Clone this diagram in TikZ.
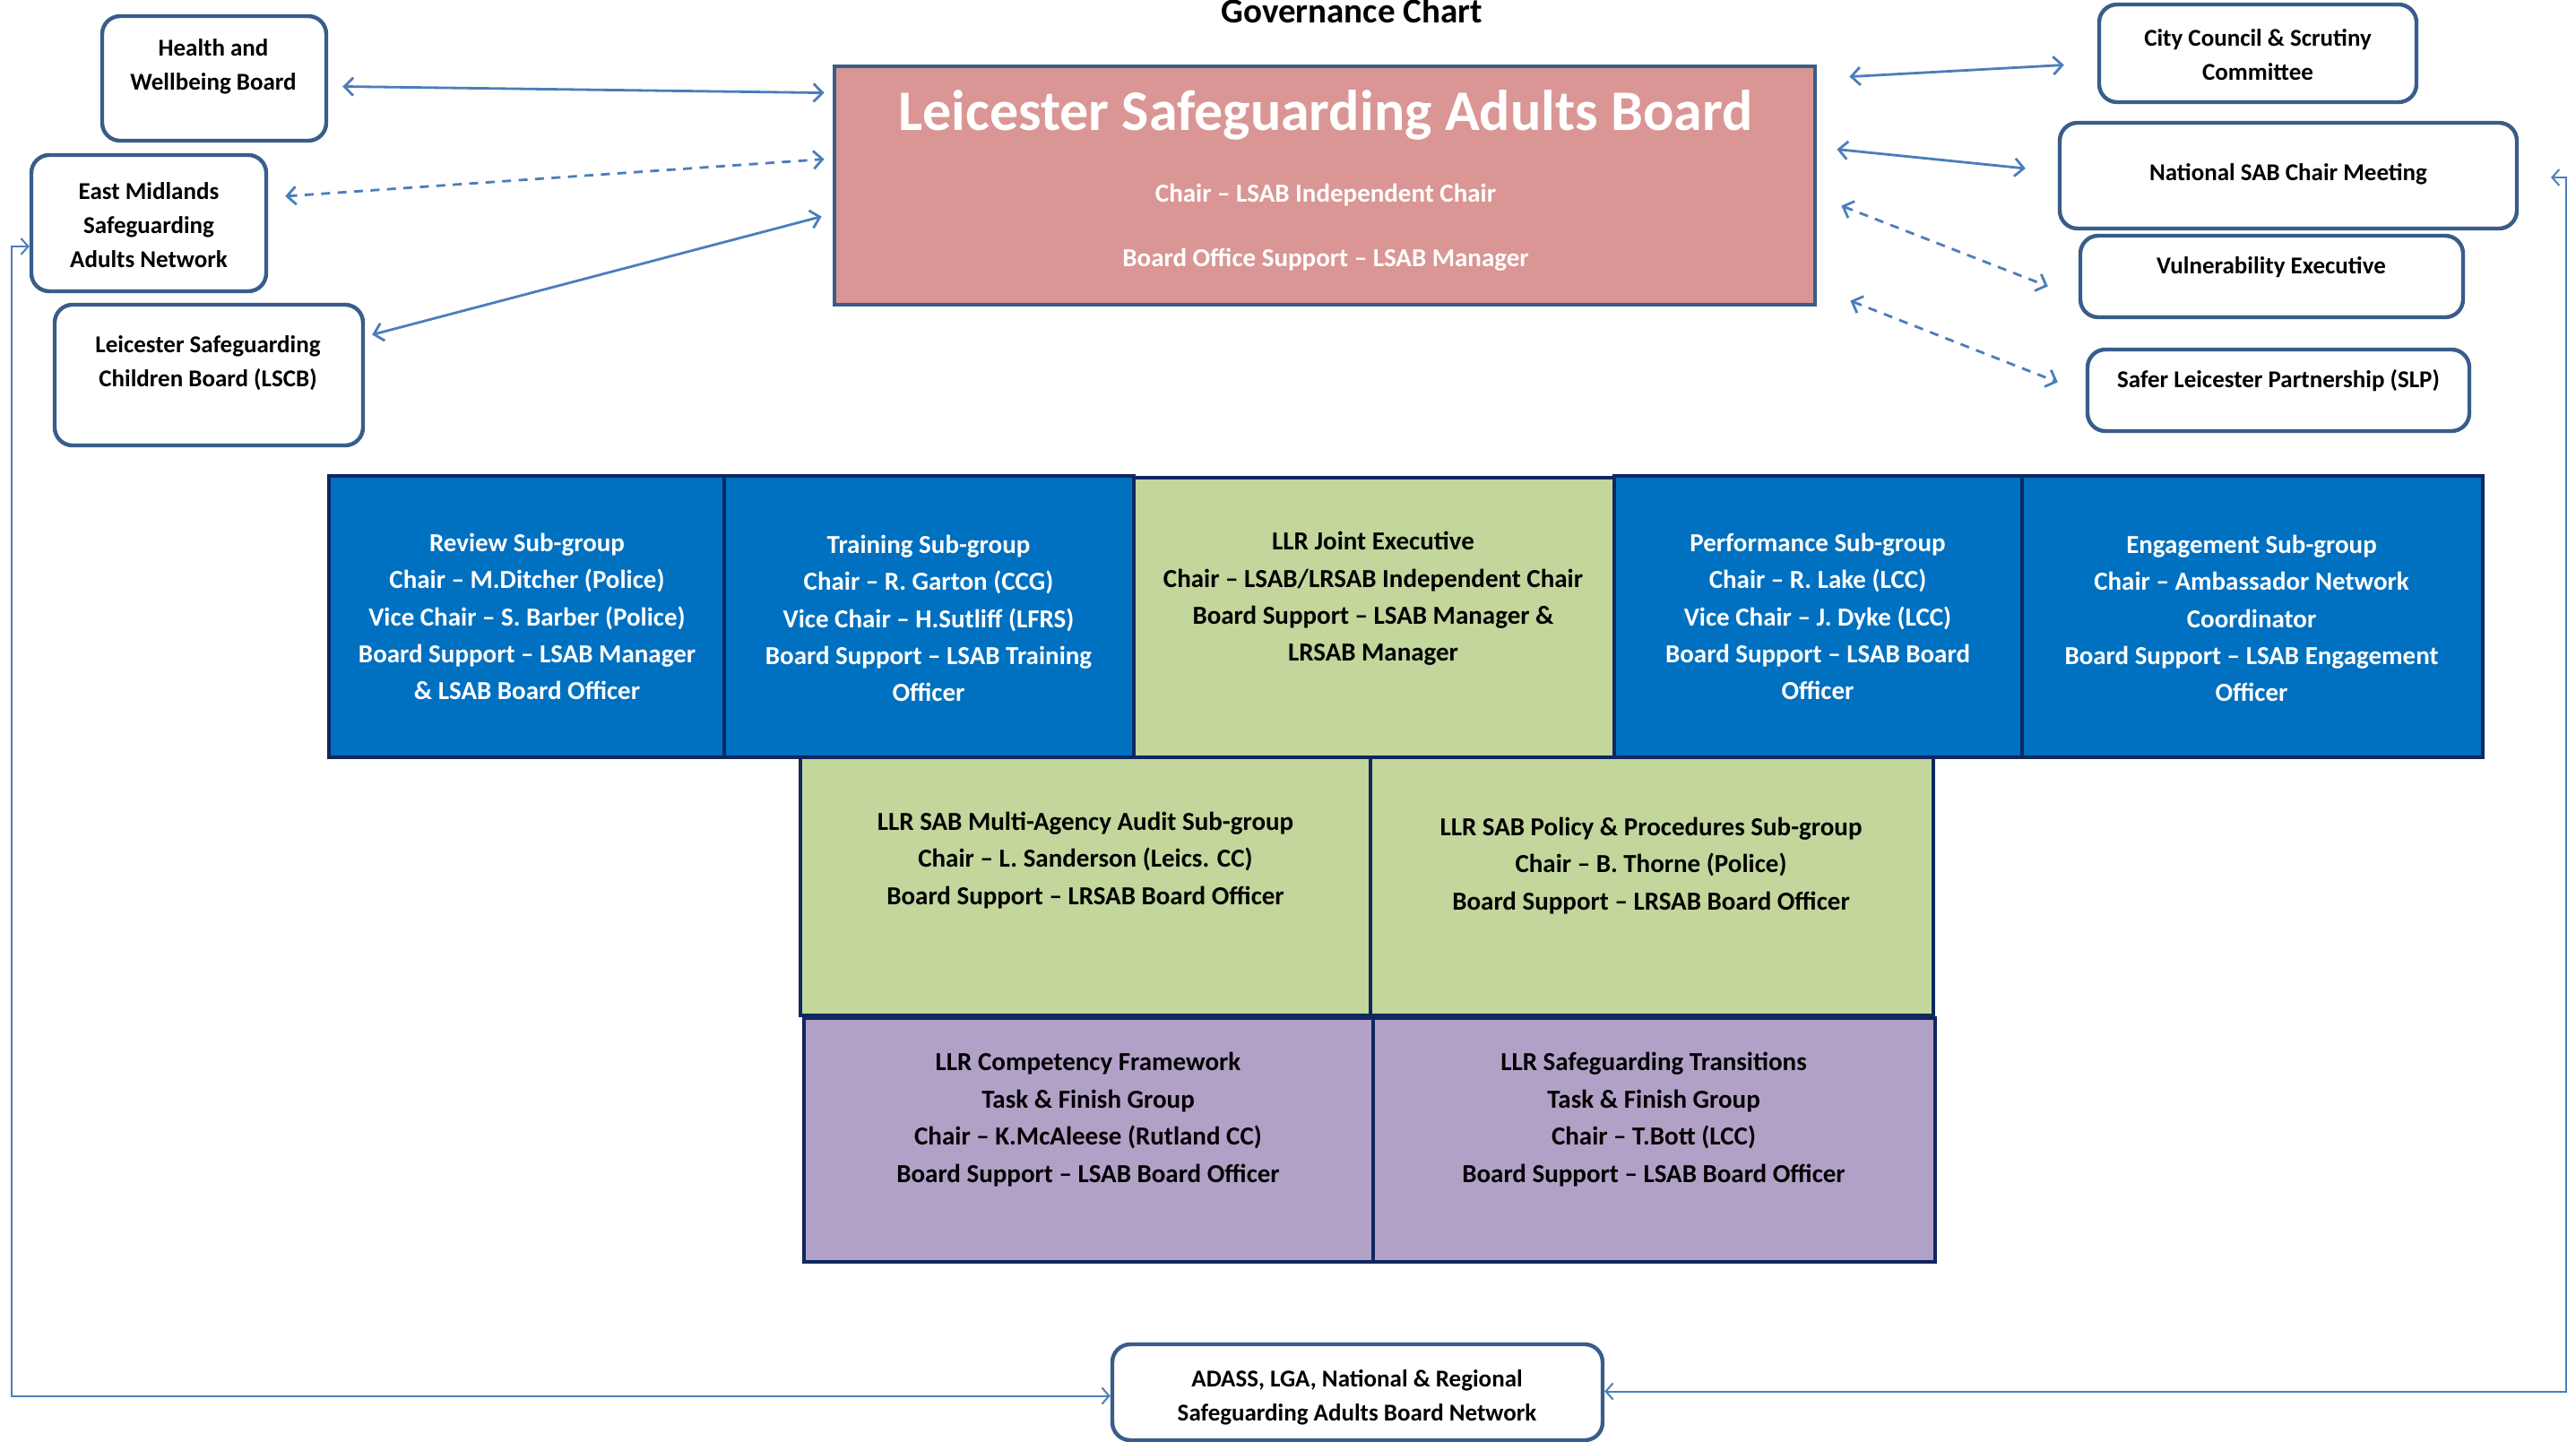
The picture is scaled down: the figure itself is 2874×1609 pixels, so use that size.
\documentclass[tikz,border=0pt]{standalone}
\usepackage{fontspec}
\setmainfont{Carlito}
\usetikzlibrary{arrows.meta,fit,calc}
\definecolor{sgblue}{HTML}{0070C0}
\definecolor{navyline}{HTML}{10275F}
\definecolor{sggreen}{HTML}{C3D69B}
\definecolor{sglilac}{HTML}{B2A1C7}
\definecolor{sgpink}{HTML}{D99694}
\definecolor{sgoutline}{HTML}{385D8A}
\definecolor{sgarrow}{HTML}{4A7EBB}
\newcommand\bxfont{\bfseries\fontsize{14.5}{20.7}\selectfont}
\newcommand\smfont{\bfseries\fontsize{13.5}{19}\selectfont}
\tikzset{
  smallbox/.style={draw=sgoutline, line width=2.2pt, rounded corners=10pt, fill=white, inner sep=0pt},
  bluebox/.style={draw=navyline, line width=1.8pt, fill=sgblue, inner sep=0pt},
  greenbox/.style={draw=navyline, line width=1.6pt, fill=sggreen, inner sep=0pt},
  lilacbox/.style={draw=navyline, line width=2.2pt, fill=sglilac, inner sep=0pt},
  pinkbox/.style={draw=sgoutline, line width=2.4pt, fill=sgpink, inner sep=0pt},
  whitetxt/.style={align=center, font=\bxfont, text=white, inner sep=0pt},
  blacktxt/.style={align=center, font=\bxfont, text=black, inner sep=0pt},
  smalltxt/.style={align=center, font=\smfont, text=black, inner sep=0pt},
  conn/.style={draw=sgarrow, line width=1.4pt,
    {Straight Barb[length=5pt,width=10pt]}-{Straight Barb[length=5pt,width=10pt]}},
  dconn/.style={conn, dash pattern=on 5pt off 4.2pt},
  longconn/.style={draw=sgarrow, line width=1pt,
    {Straight Barb[length=4pt,width=9pt]}-{Straight Barb[length=4pt,width=9pt]}}
}
\begin{document}
\begin{tikzpicture}[x=0.5pt,y=-0.5pt]
\useasboundingbox (0,0) rectangle (2874,1609);

% title
\node[anchor=base, font=\bfseries\fontsize{19.5}{24}\selectfont, inner sep=0pt] (title) at (1508,26) {Governance Chart};

% main board
\node[pinkbox, fit={(931,74) (2025,340)}] (lsab) {};
\node[anchor=center, font=\bfseries\fontsize{32}{38}\selectfont, text=white, inner sep=0pt] (lsabt) at (1479,128) {Leicester Safeguarding Adults Board};
\node[whitetxt] (lsabc) at (1479,218) {Chair – LSAB Independent Chair};
\node[whitetxt] (lsabs) at (1479,290) {Board Office Support – LSAB Manager};

% left partner boxes
\node[smallbox, fit={(114,18) (364,157)}] (hwb) {};
\node[smalltxt] (hwbt) at (238,74) {Health and\\Wellbeing Board};
\node[smallbox, fit={(35,173) (297,325)}] (em) {};
\node[smalltxt] (emt) at (166,251) {East Midlands\\Safeguarding\\Adults Network};
\node[smallbox, fit={(61,340) (405,497)}] (lscb) {};
\node[smalltxt] (lscbt) at (232,405) {Leicester Safeguarding\\Children Board (LSCB)};

% right partner boxes
\node[smallbox, fit={(2342,5) (2696,114)}] (city) {};
\node[smalltxt] (cityt) at (2519,61) {City Council \& Scrutiny\\Committee};
\node[smallbox, fit={(2298,137) (2808,255)}] (nat) {};
\node[smalltxt] (natt) at (2553,194) {National SAB Chair Meeting};
\node[smallbox, fit={(2321,263) (2748,354)}] (vul) {};
\node[smalltxt] (vult) at (2534,298) {Vulnerability Executive};
\node[smallbox, fit={(2329,390) (2755,481)}] (slp) {};
\node[smalltxt] (slpt) at (2542,425) {Safer Leicester Partnership (SLP)};

% bottom network box
\node[smallbox, fit={(1241,1500) (1788,1607)}] (adass) {};
\node[smalltxt] (adasst) at (1514,1559) {ADASS, LGA, National \& Regional\\Safeguarding Adults Board Network};

% sub-group row
\node[greenbox, fit={(1265,533) (1801,845)}] (joint) {};
\node[bluebox, fit={(367,531) (808,845)}] (review) {};
\node[bluebox, fit={(808,531) (1265,845)}] (training) {};
\node[bluebox, fit={(1801,531) (2256,845)}] (perf) {};
\node[bluebox, fit={(2256,531) (2770,845)}] (engage) {};
\node[whitetxt] (reviewt) at (588,688) {Review Sub-group\\Chair – M.Ditcher (Police)\\Vice Chair – S. Barber (Police)\\Board Support – LSAB Manager\\\& LSAB Board Officer};
\node[whitetxt] (trainingt) at (1036,690) {Training Sub-group\\Chair – R. Garton (CCG)\\Vice Chair – H.Sutliff (LFRS)\\Board Support – LSAB Training\\Officer};
\node[blacktxt] (jointt) at (1532,668) {LLR Joint Executive\\Chair – LSAB/LRSAB Independent Chair\\Board Support – LSAB Manager \&\\LRSAB Manager};
\node[whitetxt] (perft) at (2028,688) {Performance Sub-group\\Chair – R. Lake (LCC)\\Vice Chair – J. Dyke (LCC)\\Board Support – LSAB Board\\Officer};
\node[whitetxt] (engaget) at (2512,690) {Engagement Sub-group\\Chair – Ambassador Network\\Coordinator\\Board Support – LSAB Engagement\\Officer};

% LLR sub-groups
\node[greenbox, fit={(893,845) (1529,1133)}] (audit) {};
\node[greenbox, fit={(1529,845) (2157,1133)}] (policy) {};
\node[blacktxt] (auditt) at (1211,960) {LLR SAB Multi-Agency Audit Sub-group\\Chair – L. Sanderson (Leics. CC)\\Board Support – LRSAB Board Officer};
\node[blacktxt] (policyt) at (1842,966) {LLR SAB Policy \& Procedures Sub-group\\Chair – B. Thorne (Police)\\Board Support – LRSAB Board Officer};

% task & finish groups
\node[lilacbox, fit={(897,1136) (1532,1408)}] (comp) {};
\node[lilacbox, fit={(1532,1136) (2159,1408)}] (trans) {};
\node[blacktxt] (compt) at (1214,1249) {LLR Competency Framework\\Task \& Finish Group\\Chair – K.McAleese (Rutland CC)\\Board Support – LSAB Board Officer};
\node[blacktxt] (transt) at (1845,1249) {LLR Safeguarding Transitions\\Task \& Finish Group\\Chair – T.Bott (LCC)\\Board Support – LSAB Board Officer};

% connectors, left side
\draw[conn] ($(hwb.east)+(16,9)$) -- ($(lsab.north west)+(-9,32)$);
\draw[dconn] ($(em.east)+(19,-30)$) -- ($(lsab.north west)+(-9,106)$);
\draw[conn] ($(lscb.east)+(8,-45)$) -- ($(lsab.north west)+(-12,170)$);

% connectors, right side
\draw[conn] ($(lsab.north east)+(36,14)$) -- ($(city.west)+(-37,13)$);
\draw[conn] ($(lsab.north east)+(22,95)$) -- ($(nat.west)+(-36,-8)$);
\draw[dconn] ($(lsab.north east)+(27,158)$) -- ($(vul.west)+(-34,11)$);
\draw[dconn] ($(lsab.north east)+(37,264)$) -- ($(slp.west)+(-31,-9)$);

% long loops to the national network
\draw[longconn] ($(em.west)+(0,26)$) -- ++(-20,0) |- ($(adass.west)+(0,4)$);
\coordinate (natin) at (2846,198);
\draw[longconn] (natin) -- ++(17,0) |- ($(adass.east)+(0,-1)$);
\end{tikzpicture}
\end{document}
